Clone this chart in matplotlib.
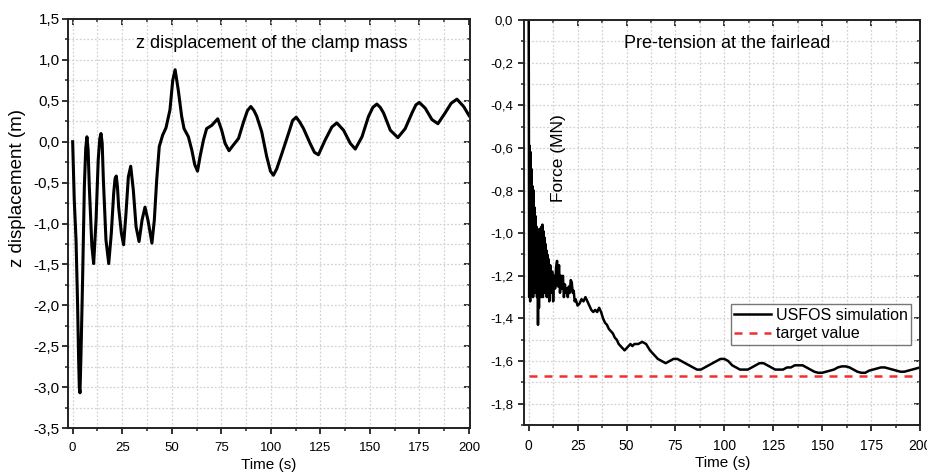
import matplotlib
matplotlib.use("Agg")
import matplotlib.pyplot as plt
from matplotlib.ticker import MultipleLocator, FuncFormatter

plt.rcParams['font.family'] = ['Liberation Sans', 'DejaVu Sans']

# ---------------- data ----------------
disp_t = [0, 0.8, 1.7, 2.5, 3.0, 3.35, 3.7, 4.2, 5.0, 5.9, 6.6, 7.2, 7.8, 8.4, 9.7,
          10.6, 11.8, 12.9, 13.7, 14.3, 14.9, 15.5, 16.8, 18.2, 19.5, 20.7, 21.4, 22.0,
          22.6, 23.2, 24.6, 25.7, 26.9, 28.1, 29.3, 30.6, 32.0, 33.5, 35.0, 36.5, 38.0,
          40.0, 41.2, 42.4, 43.7, 45.4, 47.1, 49.1, 50.5, 51.7, 53.3, 55.0, 56.2, 58.4,
          60.1, 61.6, 63.0, 64.3, 66.0, 67.6, 70.2, 73.2, 75.2, 76.9, 78.9, 81.1, 83.7,
          86.2, 88.2, 89.9, 91.5, 92.9, 95.4, 97.9, 99.8, 101.3, 103.0, 105.5, 108.9,
          111.0, 112.8, 114.6, 116.5, 119.8, 122.0, 124.0, 127.4, 130.8, 133.3, 136.7,
          140.1, 142.6, 146.0, 149.3, 151.5, 153.5, 155.2, 156.9, 160.3, 164.1, 167.8,
          171.2, 173.2, 174.9, 177.9, 181.3, 184.3, 187.9, 191.0, 193.9, 197.3, 200.0]
disp_z = [0.0, -0.71, -1.20, -2.00, -2.65, -3.00, -3.07, -2.60, -1.70, -0.55, -0.08, 0.06,
          -0.10, -0.55, -1.28, -1.49, -0.96, -0.22, 0.04, 0.10, -0.02, -0.47, -1.20, -1.49,
          -1.12, -0.63, -0.45, -0.42, -0.55, -0.80, -1.12, -1.26, -0.88, -0.43, -0.30,
          -0.59, -1.04, -1.22, -0.96, -0.80, -0.96, -1.24, -0.96, -0.47, -0.06, 0.08, 0.17,
          0.39, 0.75, 0.88, 0.63, 0.31, 0.16, 0.06, -0.10, -0.28, -0.36, -0.18, 0.02, 0.16,
          0.20, 0.28, 0.14, -0.02, -0.11, -0.04, 0.04, 0.24, 0.38, 0.43, 0.38, 0.31, 0.12,
          -0.18, -0.36, -0.41, -0.33, -0.15, 0.10, 0.26, 0.30, 0.24, 0.16, -0.02, -0.13,
          -0.16, 0.02, 0.18, 0.23, 0.14, -0.02, -0.09, 0.06, 0.31, 0.42, 0.46, 0.42, 0.35,
          0.14, 0.05, 0.16, 0.35, 0.45, 0.48, 0.41, 0.27, 0.22, 0.35, 0.47, 0.52, 0.43, 0.32]

force_t = [0, 0.25, 0.5, 0.75, 1.0, 1.25, 1.5, 1.75, 2.0, 2.25, 2.5, 2.75, 3.0, 3.25, 3.5,
           3.75, 4.0, 4.25, 4.5, 4.75, 5.0, 5.25, 5.5, 5.75, 6.0, 6.25, 6.5, 6.75, 7.0,
           7.25, 7.5, 7.75, 8.0, 8.25, 8.5, 8.75, 9.0, 9.25, 9.5, 9.75, 10.0,
           10.5, 11.0, 11.5, 12.0, 12.5, 13.0, 13.5, 14.0, 14.5, 15.0, 15.5, 16.0, 16.5,
           17.0, 17.5, 18.0, 18.5, 19.0, 19.5, 20.0, 20.5, 21.0, 21.5, 22.0, 22.5, 23.0,
           23.5, 24.0, 25, 26, 27, 28, 29, 30, 31, 32, 33, 34, 35, 36, 37, 38, 39, 40, 41,
           42, 43, 44, 45, 46, 47, 48, 49, 50, 51, 52, 53, 54, 56, 58, 60, 62, 64, 66, 68,
           70, 72, 74, 76, 78, 80, 82, 84, 86, 88, 90, 92, 94, 96, 98, 100, 102, 104, 106,
           108, 110, 112, 114, 116, 118, 120, 122, 124, 126, 128, 130, 132, 134, 136, 138,
           140, 142, 144, 146, 148, 150, 152, 154, 156, 158, 160, 162, 164, 166, 168, 170,
           172, 174, 176, 178, 180, 182, 184, 186, 188, 190, 192, 194, 196, 198, 200]
force_v = [0.0, -1.30, -0.59, -1.32, -0.62, -1.28, -0.70, -1.25, -0.78, -1.30, -0.80, -1.22,
           -0.88, -1.28, -0.92, -1.25, -0.97, -1.30, -1.00, -1.43, -1.05, -1.35, -0.98,
           -1.26, -1.00, -1.30, -0.97, -1.24, -0.96, -1.30, -0.99, -1.25, -1.02, -1.28,
           -1.05, -1.22, -1.08, -1.30, -1.10, -1.25, -1.12,
           -1.32, -1.15, -1.28, -1.18, -1.32, -1.20, -1.26, -1.16, -1.13, -1.25, -1.15,
           -1.28, -1.20, -1.26, -1.20, -1.30, -1.24, -1.28, -1.26, -1.30, -1.25, -1.28,
           -1.22, -1.23, -1.28, -1.27, -1.32, -1.31,
           -1.34, -1.33, -1.31, -1.32, -1.30, -1.32, -1.34, -1.36, -1.37, -1.36, -1.37,
           -1.35, -1.37, -1.40, -1.42, -1.43, -1.45, -1.46, -1.47, -1.49, -1.50, -1.52,
           -1.53, -1.54, -1.55, -1.54, -1.53, -1.52, -1.53, -1.52, -1.52, -1.51, -1.52,
           -1.55, -1.57, -1.59, -1.60, -1.61, -1.60, -1.59, -1.59, -1.60, -1.61, -1.62,
           -1.63, -1.64, -1.64, -1.63, -1.62, -1.61, -1.60, -1.59, -1.59, -1.60, -1.62,
           -1.63, -1.64, -1.64, -1.64, -1.63, -1.62, -1.61, -1.61, -1.62, -1.63, -1.64,
           -1.64, -1.64, -1.63, -1.63, -1.62, -1.62, -1.62, -1.63, -1.64, -1.65, -1.655,
           -1.655, -1.65, -1.645, -1.64, -1.63, -1.625, -1.625, -1.63, -1.64, -1.65,
           -1.655, -1.655, -1.645, -1.64, -1.635, -1.63, -1.63, -1.635, -1.64, -1.645,
           -1.65, -1.65, -1.645, -1.64, -1.635, -1.63]

target_t = [0, 200]
target_v = [-1.67, -1.67]

title_left = "z displacement of the clamp mass"
title_right = "Pre-tension at the fairlead"
ylabel_left = "z displacement (m)"
ylabel_right = "Force (MN)"
xlabel = "Time (s)"
legend_labels = ["USFOS simulation", "target value"]

# ---------------- figure ----------------
W, H = 927, 472
fig = plt.figure(figsize=(W / 100, H / 100), dpi=100)

def px_rect(x0, y0, x1, y1):
    return [x0 / W, 1 - y1 / H, (x1 - x0) / W, (y1 - y0) / H]

ax1 = fig.add_axes(px_rect(68.3, 19, 470, 428))
ax2 = fig.add_axes(px_rect(524, 20, 920, 425))

comma = FuncFormatter(lambda v, p: f"{v + 0.0:.1f}".replace('.', ',').replace('-0,0', '0,0'))
intf = FuncFormatter(lambda v, p: f"{int(round(v))}")

grid_kw = dict(color='#d2d2d2', linestyle=(0, (1.5, 1.5)), linewidth=0.9)

def style(ax, xmaj, xmin, ymaj, ymin, ysize, xsize, ypad, xpad):
    ax.xaxis.set_major_locator(MultipleLocator(xmaj))
    ax.xaxis.set_minor_locator(MultipleLocator(xmin))
    ax.yaxis.set_major_locator(MultipleLocator(ymaj))
    ax.yaxis.set_minor_locator(MultipleLocator(ymin))
    ax.yaxis.set_major_formatter(comma)
    ax.xaxis.set_major_formatter(intf)
    ax.grid(True, which='both', **grid_kw)
    ax.set_axisbelow(True)
    for s in ax.spines.values():
        s.set_linewidth(1.4)
        s.set_color('#222222')
    ax.tick_params(which='major', direction='out', length=4, width=1.3, color='#222222')
    ax.tick_params(which='minor', direction='out', length=2.5, width=1.1, color='#222222')
    ax.tick_params(axis='y', which='major', labelsize=ysize, pad=ypad)
    ax.tick_params(axis='x', which='major', labelsize=xsize, pad=xpad)
    ident = (lambda v: v, lambda v: v)
    sx = ax.secondary_xaxis('top', functions=ident)
    sy = ax.secondary_yaxis('right', functions=ident)
    sx.xaxis.set_major_locator(MultipleLocator(xmaj))
    sx.xaxis.set_minor_locator(MultipleLocator(xmin))
    sy.yaxis.set_major_locator(MultipleLocator(ymaj))
    sy.yaxis.set_minor_locator(MultipleLocator(ymin))
    for sa in (sx, sy):
        sa.tick_params(which='major', direction='in', length=4, width=1.3, color='#222222',
                       labeltop=False, labelright=False)
        sa.tick_params(which='minor', direction='in', length=2.5, width=1.1, color='#222222')
        for s in sa.spines.values():
            s.set_visible(False)

# left panel
ax1.plot(disp_t, disp_z, color='black', lw=2.2, solid_joinstyle='round')
ax1.set_xlim(-2.2, 200.5)
ax1.set_ylim(-3.5, 1.5)
style(ax1, 25, 12.5, 0.5, 0.25, 11, 9.5, 2, 6)

# right panel
l1, = ax2.plot(force_t, force_v, color='black', lw=1.8, solid_joinstyle='round')
l2, = ax2.plot(target_t, target_v, color='#f03030', lw=1.8, dashes=(3.2, 2.8))
ax2.set_xlim(-2.4, 200)
ax2.set_ylim(-1.9, 0)
style(ax2, 25, 12.5, 0.2, 0.1, 9.5, 10, 4, 6)

leg = ax2.legend([l1, l2], legend_labels, loc='upper right', bbox_to_anchor=(0.977, 0.298),
                 fontsize=11.5, frameon=True, fancybox=False, handlelength=2.3,
                 handletextpad=0.3, borderpad=0.2, labelspacing=0.25, borderaxespad=0)
leg.get_frame().set_edgecolor('#555555')
leg.get_frame().set_linewidth(1.0)

# texts
fig.text(272 / W, 1 - 43 / H, title_left, ha='center', va='center', fontsize=13)
fig.text(727 / W, 1 - 44 / H, title_right, ha='center', va='center', fontsize=13)
fig.text(18 / W, 1 - 188 / H, ylabel_left, ha='center', va='center', rotation=90, fontsize=13.5)
fig.text(558 / W, 1 - 158 / H, ylabel_right, ha='center', va='center', rotation=90, fontsize=12.5)
fig.text(269 / W, 1 - 465 / H, xlabel, ha='center', va='center', fontsize=11)
fig.text(723 / W, 1 - 463 / H, xlabel, ha='center', va='center', fontsize=11)

fig.savefig("out.png", dpi=100)
